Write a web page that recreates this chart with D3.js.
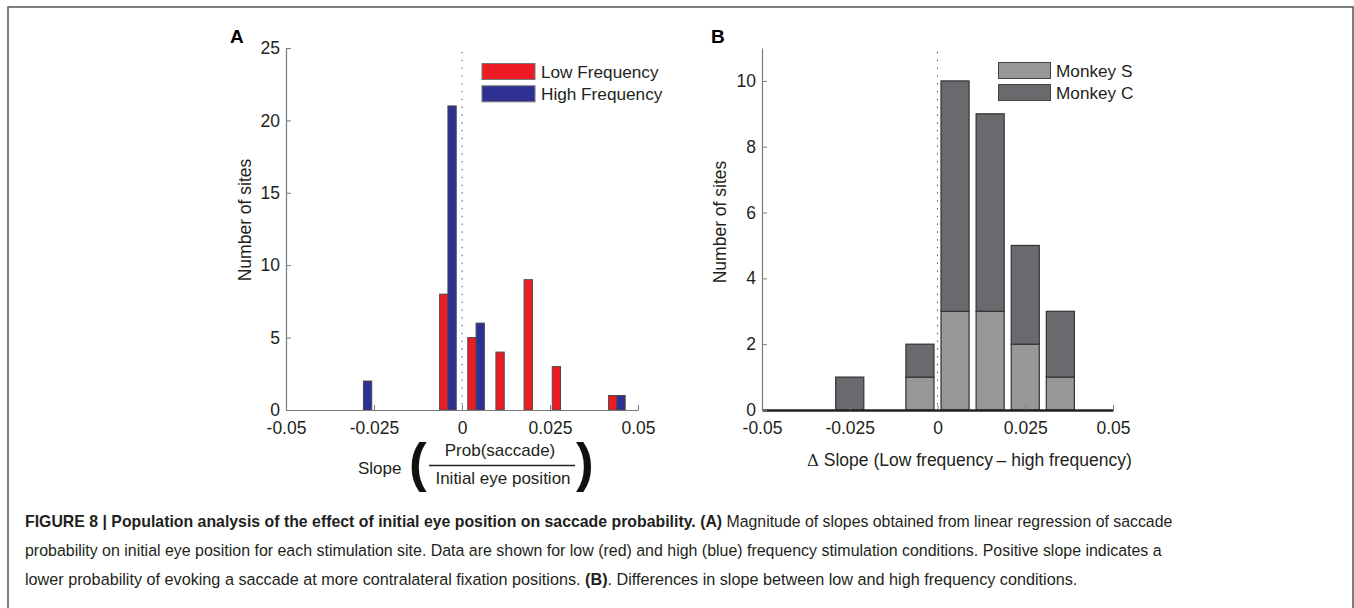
<!DOCTYPE html>
<html><head><meta charset="utf-8">
<script src="https://cdn.jsdelivr.net/npm/d3@7"></script>
<style>
body{margin:0;background:#fff;}
svg{display:block;font-family:"Liberation Sans",Arial,sans-serif;}
</style></head>
<body><svg id="c" width="1354" height="608"></svg>
<script>
// ---- Data ----
const binsA = [-0.028, -0.004, 0.004, 0.012, 0.020, 0.028, 0.044];
const lowFreq = [0, 8, 5, 4, 9, 3, 1];
const highFreq = [2, 21, 6, 0, 0, 0, 1];
const seriesA = ["Low Frequency", "High Frequency"];
const ticksAx = [-0.05, -0.025, 0, 0.025, 0.05];
const ticksAy = [0, 5, 10, 15, 20, 25];

const binsB = [-0.045, -0.035, -0.025, -0.015, -0.005, 0.005, 0.015, 0.025, 0.035, 0.045];
const monkeyS = [0, 0, 0, 0, 1, 3, 3, 2, 1, 0];
const monkeyC = [0, 0, 1, 0, 1, 7, 6, 3, 2, 0];
const seriesB = ["Monkey S", "Monkey C"];
const ticksBx = [-0.05, -0.025, 0, 0.025, 0.05];
const ticksBy = [0, 2, 4, 6, 8, 10];

const captionLines = [
  [["FIGURE 8 | Population analysis of the effect of initial eye position on saccade probability. (A)", true], [" Magnitude of slopes obtained from linear regression of saccade", false]],
  [["probability on initial eye position for each stimulation site. Data are shown for low (red) and high (blue) frequency stimulation conditions. Positive slope indicates a", false]],
  [["lower probability of evoking a saccade at more contralateral fixation positions. ", false], ["(B)", true], [". Differences in slope between low and high frequency conditions.", false]]
];
const captionWidths = [1148, 1137, 1053];

// ---- Styles ----
const colA = {"Low Frequency": "#ed1c24", "High Frequency": "#2e3192"};
const colB = {"Monkey S": "#97979a", "Monkey C": "#6a6a6e"};
const axisCol = "#7a7a7a", textCol = "#231f20";
const fsTick = 17.5;

const svg = d3.select("#c");
svg.append("rect").attr("x", 8).attr("y", 7).attr("width", 1345).attr("height", 620)
  .attr("fill", "none").attr("stroke", "#555").attr("stroke-width", 1.5);

function styleAxis(g, fs) {
  g.select(".domain").attr("stroke", axisCol).attr("stroke-width", 1.2);
  g.selectAll(".tick line").attr("stroke", axisCol);
  g.selectAll(".tick text").attr("fill", textCol).attr("font-size", fs)
    .attr("font-family", "Liberation Sans, Arial, sans-serif");
}

// ================= Panel A =================
const xA = d3.scaleLinear().domain([-0.05, 0.05]).range([286, 638]);
const yA = d3.scaleLinear().domain([0, 25]).range([410, 48]);
const bw = 0.00236;

svg.append("line").attr("x1", xA(0)).attr("x2", xA(0)).attr("y1", 52).attr("y2", yA(0))
  .attr("stroke", "#444").attr("stroke-width", 1).attr("stroke-dasharray", "1.3,6.5");

const barsA = svg.append("g");
binsA.forEach((c, i) => {
  [[lowFreq[i], c - bw, "Low Frequency"], [highFreq[i], c, "High Frequency"]].forEach(([v, x0, s]) => {
    if (v > 0) barsA.append("rect")
      .attr("x", xA(x0)).attr("width", xA(x0 + bw) - xA(x0))
      .attr("y", yA(v)).attr("height", yA(0) - yA(v))
      .attr("fill", colA[s]).attr("stroke", "#4a4a4a").attr("stroke-width", 1);
  });
});

const gAx = svg.append("g").attr("transform", `translate(0,${yA(0)})`)
  .call(d3.axisBottom(xA).tickValues(ticksAx).tickSize(-5).tickSizeOuter(0).tickPadding(12)
    .tickFormat(d => d === 0 ? "0" : String(d)));
styleAxis(gAx, fsTick);
const gAy = svg.append("g").attr("transform", `translate(${xA(-0.05)},0)`)
  .call(d3.axisLeft(yA).tickValues(ticksAy).tickSize(-5).tickSizeOuter(0).tickPadding(6));
styleAxis(gAy, fsTick);

seriesA.forEach((s, i) => {
  const y0 = 63.5 + i * 22.3;
  svg.append("rect").attr("x", 482).attr("y", y0).attr("width", 53).attr("height", 16)
    .attr("fill", colA[s]).attr("stroke", "#777").attr("stroke-width", 1);
  svg.append("text").attr("x", 541).attr("y", y0 + 14.5).attr("font-size", 17.2).attr("fill", textCol).text(s);
});

svg.append("text").attr("x", 230).attr("y", 43).attr("font-size", 19).attr("font-weight", "bold").attr("fill", "#000").text("A");
svg.append("text").attr("transform", "translate(251,220) rotate(-90)").attr("text-anchor", "middle")
  .attr("font-size", 17.5).attr("fill", textCol).text("Number of sites");
svg.append("text").attr("x", 358).attr("y", 474).attr("font-size", 17).attr("fill", textCol).text("Slope");
svg.append("text").attr("x", 409).attr("y", 481).attr("font-size", 53).attr("font-weight", "bold").attr("fill", "#111").text("(");
svg.append("text").attr("x", 576).attr("y", 481).attr("font-size", 53).attr("font-weight", "bold").attr("fill", "#111").text(")");
svg.append("text").attr("x", 500).attr("y", 456).attr("text-anchor", "middle").attr("font-size", 17).attr("fill", textCol).text("Prob(saccade)");
svg.append("line").attr("x1", 429).attr("x2", 575).attr("y1", 465.5).attr("y2", 465.5).attr("stroke", "#222").attr("stroke-width", 1.5);
svg.append("text").attr("x", 503).attr("y", 484).attr("text-anchor", "middle").attr("font-size", 17).attr("fill", textCol).text("Initial eye position");

// ================= Panel B =================
const xB = d3.scaleLinear().domain([-0.05, 0.05]).range([762, 1113]);
const yB = d3.scaleLinear().domain([0, 11]).range([410, 48]);
const bwB = 0.008;

svg.append("line").attr("x1", xB(0)).attr("x2", xB(0)).attr("y1", 52).attr("y2", yB(0))
  .attr("stroke", "#444").attr("stroke-width", 1).attr("stroke-dasharray", "1.3,6.5");

const barsB = svg.append("g");
binsB.forEach((c, i) => {
  const s = monkeyS[i], cc = monkeyC[i];
  const x0 = xB(c - bwB / 2), w = xB(c + bwB / 2) - xB(c - bwB / 2);
  if (s > 0) barsB.append("rect").attr("x", x0).attr("width", w)
    .attr("y", yB(s)).attr("height", yB(0) - yB(s))
    .attr("fill", colB["Monkey S"]).attr("stroke", "#333").attr("stroke-width", 1.2);
  if (cc > 0) barsB.append("rect").attr("x", x0).attr("width", w)
    .attr("y", yB(s + cc)).attr("height", yB(s) - yB(s + cc))
    .attr("fill", colB["Monkey C"]).attr("stroke", "#333").attr("stroke-width", 1.2);
});

const gBx = svg.append("g").attr("transform", `translate(0,${yB(0)})`)
  .call(d3.axisBottom(xB).tickValues(ticksBx).tickSize(-5).tickSizeOuter(0).tickPadding(12)
    .tickFormat(d => d === 0 ? "0" : String(d)));
styleAxis(gBx, fsTick);
gBx.select(".domain").attr("stroke", "#222").attr("stroke-width", 2.6);
const gBy = svg.append("g").attr("transform", `translate(${xB(-0.05)},0)`)
  .call(d3.axisLeft(yB).tickValues(ticksBy).tickSize(-5).tickSizeOuter(0).tickPadding(6));
styleAxis(gBy, fsTick);

seriesB.forEach((s, i) => {
  const y0 = 62.5 + i * 22;
  svg.append("rect").attr("x", 998.5).attr("y", y0).attr("width", 52).attr("height", 16)
    .attr("fill", colB[s]).attr("stroke", "#444").attr("stroke-width", 1);
  svg.append("text").attr("x", 1056).attr("y", y0 + 14.3).attr("font-size", 17.2).attr("fill", textCol).text(s);
});

svg.append("text").attr("x", 711).attr("y", 43).attr("font-size", 19).attr("font-weight", "bold").attr("fill", "#000").text("B");
svg.append("text").attr("transform", "translate(726,222) rotate(-90)").attr("text-anchor", "middle")
  .attr("font-size", 17.5).attr("fill", textCol).text("Number of sites");
const xl = svg.append("text").attr("x", 807).attr("y", 465.5).attr("font-size", 17.5).attr("fill", textCol);
xl.append("tspan").attr("font-family", "DejaVu Serif, serif").attr("font-size", 16.5).text("Δ");
xl.append("tspan").text(" Slope (Low frequency\u2009– high frequency)");

// ================= Caption =================
captionLines.forEach((parts, i) => {
  const y = 526.5 + i * 29.3;
  const t = svg.append("text").attr("x", 0).attr("y", 0)
    .attr("font-family", "Liberation Sans Narrow, Liberation Sans, Arial, sans-serif")
    .attr("font-size", 16.5).attr("fill", "#231f20");
  parts.forEach(([txt, b]) => t.append("tspan").attr("font-weight", b ? "bold" : "normal").text(txt));
  const natural = t.node().getComputedTextLength();
  const sx = captionWidths[i] / natural;
  t.attr("transform", `translate(25,${y}) scale(${sx},1)`);
});
</script></body></html>
